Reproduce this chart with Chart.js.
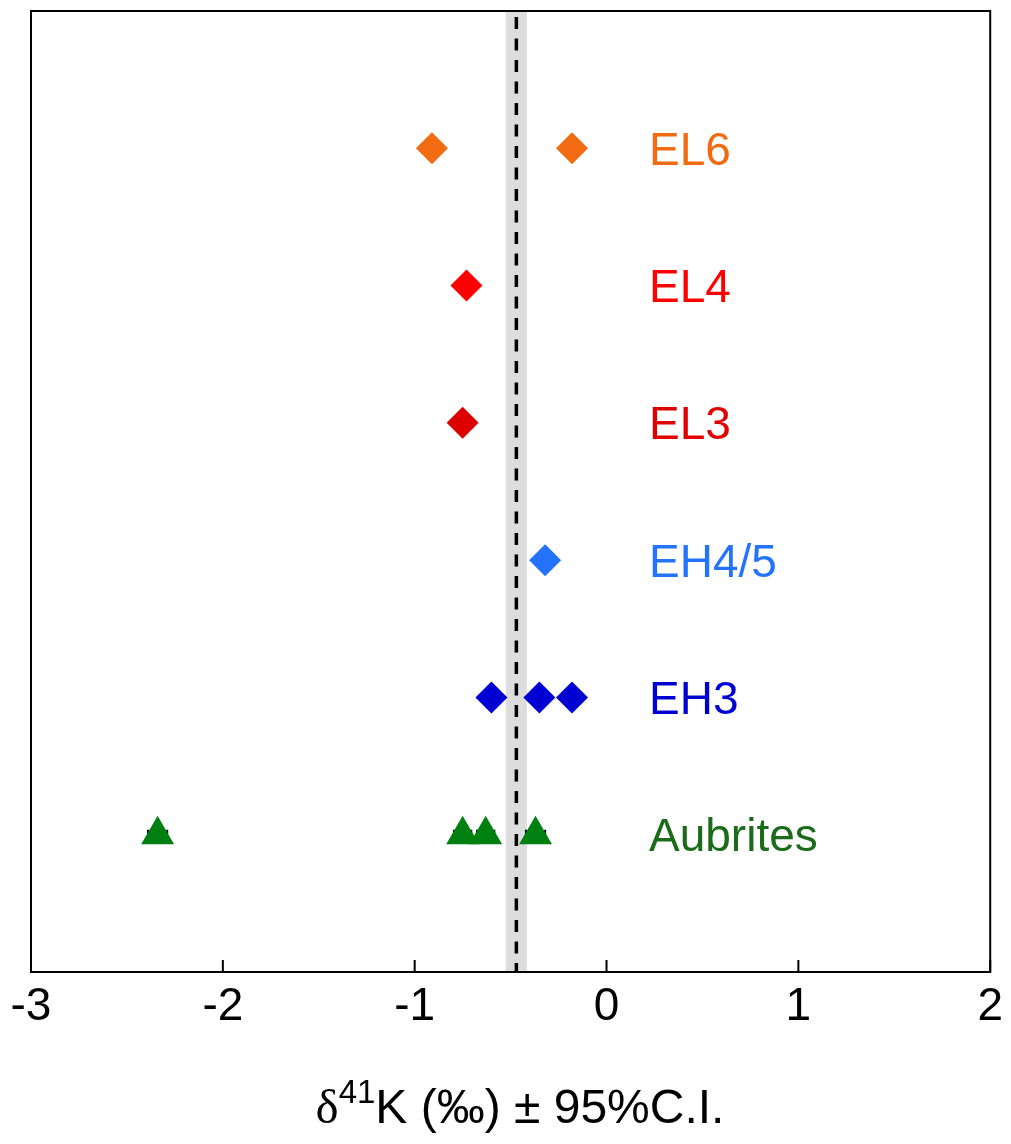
<!DOCTYPE html>
<html>
<head>
<meta charset="utf-8">
<script src="https://cdn.jsdelivr.net/npm/chart.js@4/dist/chart.umd.min.js"></script>
<style>
html,body{margin:0;padding:0;background:#fff;}
#wrap{width:1011px;height:1144px;position:relative;}
</style>
</head>
<body>
<div id="wrap"><canvas id="c" width="1011" height="1144"></canvas></div>
<script>
// ---- data ----
const groups = ['EL6', 'EL4', 'EL3', 'EH4/5', 'EH3', 'Aubrites'];
const rowPos = [6, 5, 4, 3, 2, 1];
const el6Values = [-0.91, -0.18];
const el4Values = [-0.73];
const el3Values = [-0.75];
const eh45Values = [-0.32];
const eh3Values = [-0.60, -0.35, -0.18];
const aubriteValues = [-2.34, -0.75, -0.63, -0.37];
const el6Err = [0.05, 0.05];
const el4Err = [0.05];
const el3Err = [0.05];
const eh45Err = [0.05];
const eh3Err = [0.05, 0.05, 0.05];
const aubriteErr = [0.05, 0.045, 0.045, 0.05];
const markerColors = ['#f26b13', '#ff0000', '#dc0000', '#2373ff', '#0000d2', '#008010'];
const labelColors = ['#f26b13', '#ff0000', '#e00000', '#2373ff', '#0000d2', '#1b6b1b'];
const markerStyles = ['rectRot', 'rectRot', 'rectRot', 'rectRot', 'rectRot', 'triangle'];
const markerSizes = [16, 16, 16, 16, 16, 19];
const xTicks = [-3, -2, -1, 0, 1, 2];
const bseMean = [-0.47];
const bseHalfWidth = [0.055];

const allValues = [el6Values, el4Values, el3Values, eh45Values, eh3Values, aubriteValues];
const allErrs = [el6Err, el4Err, el3Err, eh45Err, eh3Err, aubriteErr];

const datasets = groups.map((g, i) => ({
  label: g,
  data: allValues[i].map((v, j) => ({x: v, y: rowPos[i], e: allErrs[i][j]})),
  pointStyle: markerStyles[i],
  pointRadius: markerSizes[i],
  pointHoverRadius: markerSizes[i],
  backgroundColor: markerColors[i],
  borderColor: markerColors[i],
  borderWidth: 0
}));

const FONT = '"Liberation Sans", Arial, Helvetica, sans-serif';

const decor = {
  id: 'decor',
  beforeDatasetsDraw(chart) {
    const {ctx, chartArea: a, scales: {x, y}} = chart;
    ctx.save();
    const bx0 = x.getPixelForValue(bseMean[0] - bseHalfWidth[0]);
    const bx1 = x.getPixelForValue(bseMean[0] + bseHalfWidth[0]);
    ctx.fillStyle = '#dcdddc';
    ctx.fillRect(bx0, a.top, bx1 - bx0, a.bottom - a.top);
    const mx = x.getPixelForValue(bseMean[0]);
    ctx.strokeStyle = '#000';
    ctx.lineWidth = 3.5;
    ctx.setLineDash([12, 9.5]);
    ctx.beginPath();
    ctx.moveTo(mx, a.top + 6);
    ctx.lineTo(mx, a.bottom);
    ctx.stroke();
    ctx.setLineDash([]);
    ctx.lineWidth = 2;
    chart.data.datasets.forEach(ds => {
      ds.data.forEach(p => {
        const x0 = x.getPixelForValue(p.x - p.e);
        const x1 = x.getPixelForValue(p.x + p.e);
        const py = y.getPixelForValue(p.y);
        ctx.beginPath();
        ctx.moveTo(x0, py); ctx.lineTo(x1, py);
        ctx.moveTo(x0, py - 5); ctx.lineTo(x0, py + 5);
        ctx.moveTo(x1, py - 5); ctx.lineTo(x1, py + 5);
        ctx.stroke();
      });
    });
    ctx.restore();
  },
  afterDraw(chart) {
    const {ctx, chartArea: a, scales: {x, y}} = chart;
    ctx.save();
    ctx.strokeStyle = '#000';
    ctx.lineWidth = 2;
    ctx.strokeRect(a.left, a.top, a.right - a.left, a.bottom - a.top);
    ctx.beginPath();
    xTicks.forEach(t => {
      const px = x.getPixelForValue(t);
      ctx.moveTo(px, a.bottom);
      ctx.lineTo(px, a.bottom - 12);
    });
    ctx.stroke();
    ctx.font = '46px ' + FONT;
    ctx.textAlign = 'left';
    ctx.textBaseline = 'alphabetic';
    groups.forEach((g, i) => {
      ctx.fillStyle = labelColors[i];
      ctx.fillText(g, 649, y.getPixelForValue(rowPos[i]) + 0.358 * 46);
    });
    const parts = [
      {t: 'δ', f: '49px "Liberation Serif", "Times New Roman", serif', dy: 0},
      {t: '41', f: '33px ' + FONT, dy: -20},
      {t: 'K (‰) ± 95%C.I.', f: '48px ' + FONT, dy: 0}
    ];
    let total = 0;
    parts.forEach(p => { ctx.font = p.f; p.w = ctx.measureText(p.t).width; total += p.w; });
    let cx = 520 - total / 2;
    const base = 1123;
    ctx.fillStyle = '#000';
    parts.forEach(p => {
      ctx.font = p.f;
      ctx.fillText(p.t, cx, base + p.dy);
      cx += p.w;
    });
    ctx.restore();
  }
};

new Chart(document.getElementById('c'), {
  type: 'scatter',
  data: {datasets},
  options: {
    responsive: false,
    animation: false,
    events: [],
    layout: {autoPadding: false, padding: {left: 31, right: 17, top: 11, bottom: 0}},
    plugins: {legend: {display: false}, tooltip: {enabled: false}},
    scales: {
      x: {
        type: 'linear', min: -3, max: 2,
        afterFit(s) { s.height = 172; },
        afterBuildTicks(s) { s.ticks = xTicks.map(v => ({value: v})); },
        grid: {display: false, drawTicks: false},
        border: {display: false},
        ticks: {
          color: '#000', padding: 8,
          font: {family: FONT, size: 46},
          maxRotation: 0
        }
      },
      y: {
        type: 'linear', min: 0, max: 7, display: false
      }
    }
  },
  plugins: [decor]
});
</script>
</body>
</html>
